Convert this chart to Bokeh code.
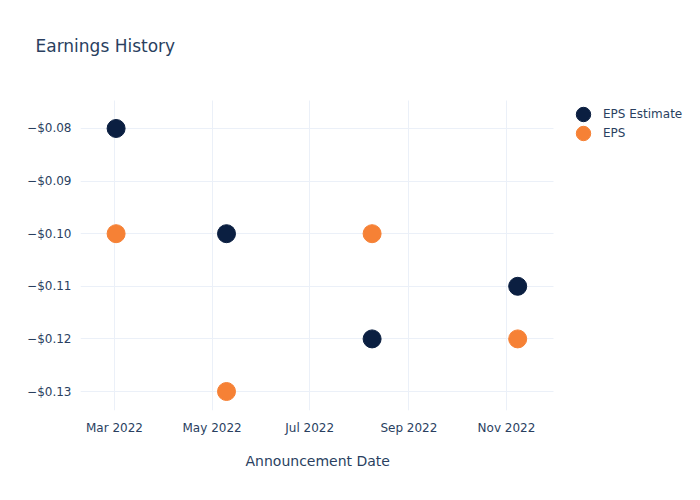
from datetime import datetime
from bokeh.plotting import figure
from bokeh.models import (ColumnDataSource, FixedTicker, CustomJSTickFormatter,
                          DatetimeTickFormatter, Legend, LegendItem, Range1d, Title)
from bokeh.embed import file_html
from bokeh.resources import INLINE

dates = ["2022-03-02", "2022-05-10", "2022-08-09", "2022-11-08"]
eps_estimate = [-0.08, -0.10, -0.12, -0.11]
eps_actual = [-0.10, -0.13, -0.10, -0.12]
series_names = ["EPS Estimate", "EPS"]
x_tick_dates = ["2022-03-01", "2022-05-01", "2022-07-01", "2022-09-01", "2022-11-01"]
y_ticks = [-0.08, -0.09, -0.10, -0.11, -0.12, -0.13]

FONT = "DejaVu Sans"
TXT = "#2a3f5f"
GRID = "#ebf0f8"
C_EST = "#0b1f41"
C_EPS = "#f68135"

DAY = 86400000.0
def to_ms(s):
    return datetime.strptime(s, "%Y-%m-%d").timestamp() * 1000

# plotting region (data area) and the wider frame that also hosts the legend
x_lo = to_ms("2022-03-01") - 21.25 * DAY
x_hi = to_ms("2022-03-01") + 274.4 * DAY
x_frame_hi = to_ms("2022-03-01") + 366.25 * DAY
y_lo, y_hi = -0.13361, -0.0747
y_frame_hi = -0.0724

xs = [datetime.strptime(d, "%Y-%m-%d") for d in dates]
src = ColumnDataSource(dict(x=xs, est=eps_estimate, eps=eps_actual))

p = figure(frame_width=620, frame_height=322, x_axis_type="datetime", output_backend="svg",
           toolbar_location=None, title="Earnings History",
           x_range=Range1d(x_lo, x_frame_hi),
           y_range=Range1d(y_lo, y_frame_hi),
           min_border_left=80, min_border_right=0, min_border_top=88,
           min_border_bottom=90)
p.outline_line_color = None
p.background_fill_color = "white"
p.border_fill_color = "white"

p.title.text_font = FONT
p.title.text_font_size = "17px"
p.title.text_font_style = "normal"
p.title.text_color = TXT
p.title.offset = -45
p.title.standoff = 66

r1 = p.scatter("x", "est", source=src, size=18, color=C_EST, line_color=C_EST)
r2 = p.scatter("x", "eps", source=src, size=18, color=C_EPS, line_color=C_EPS)

for ax in (p.xaxis[0], p.yaxis[0]):
    ax.axis_line_color = None
    ax.major_tick_line_color = None
    ax.minor_tick_line_color = None
    ax.major_label_text_font = FONT
    ax.major_label_text_font_size = "12px"
    ax.major_label_text_color = TXT

p.xaxis.bounds = (x_lo, x_hi)
p.xaxis.ticker = FixedTicker(ticks=[to_ms(d) for d in x_tick_dates])
p.xaxis.formatter = DatetimeTickFormatter(days="%b %Y", months="%b %Y")
p.xaxis.major_label_standoff = 4

# x-axis title, placed under the data area (not the wider frame)
xtitle = Title(text="Announcement Date", align="left", offset=165, standoff=27,
               text_font=FONT, text_font_size="14px", text_font_style="normal",
               text_color=TXT)
p.add_layout(xtitle, "below")

p.yaxis.bounds = (y_lo, y_hi)
p.yaxis.ticker = FixedTicker(ticks=y_ticks)
p.yaxis.formatter = CustomJSTickFormatter(code="""
    return (tick < 0 ? "\\u2212" : "") + "$" + Math.abs(tick).toFixed(2);
""")
p.yaxis.major_label_standoff = 3

p.xgrid.grid_line_color = GRID
p.ygrid.grid_line_color = GRID
p.xgrid.cross_bounds = (y_lo, y_hi)
p.ygrid.cross_bounds = (x_lo, x_hi)

for name, rend, loc in ((series_names[0], r1, (485, 278)), (series_names[1], r2, (485, 259))):
    leg = Legend(items=[LegendItem(label=name, renderers=[rend])], location=loc)
    leg.background_fill_alpha = 0
    leg.border_line_color = None
    leg.label_text_font = FONT
    leg.label_text_font_size = "12px"
    leg.label_text_color = TXT
    leg.glyph_width = 36
    leg.glyph_height = 36
    leg.label_height = 36
    leg.label_standoff = 2
    leg.padding = 0
    leg.margin = 0
    p.add_layout(leg, "center")

open("out.html", "w").write(file_html(p, INLINE))
